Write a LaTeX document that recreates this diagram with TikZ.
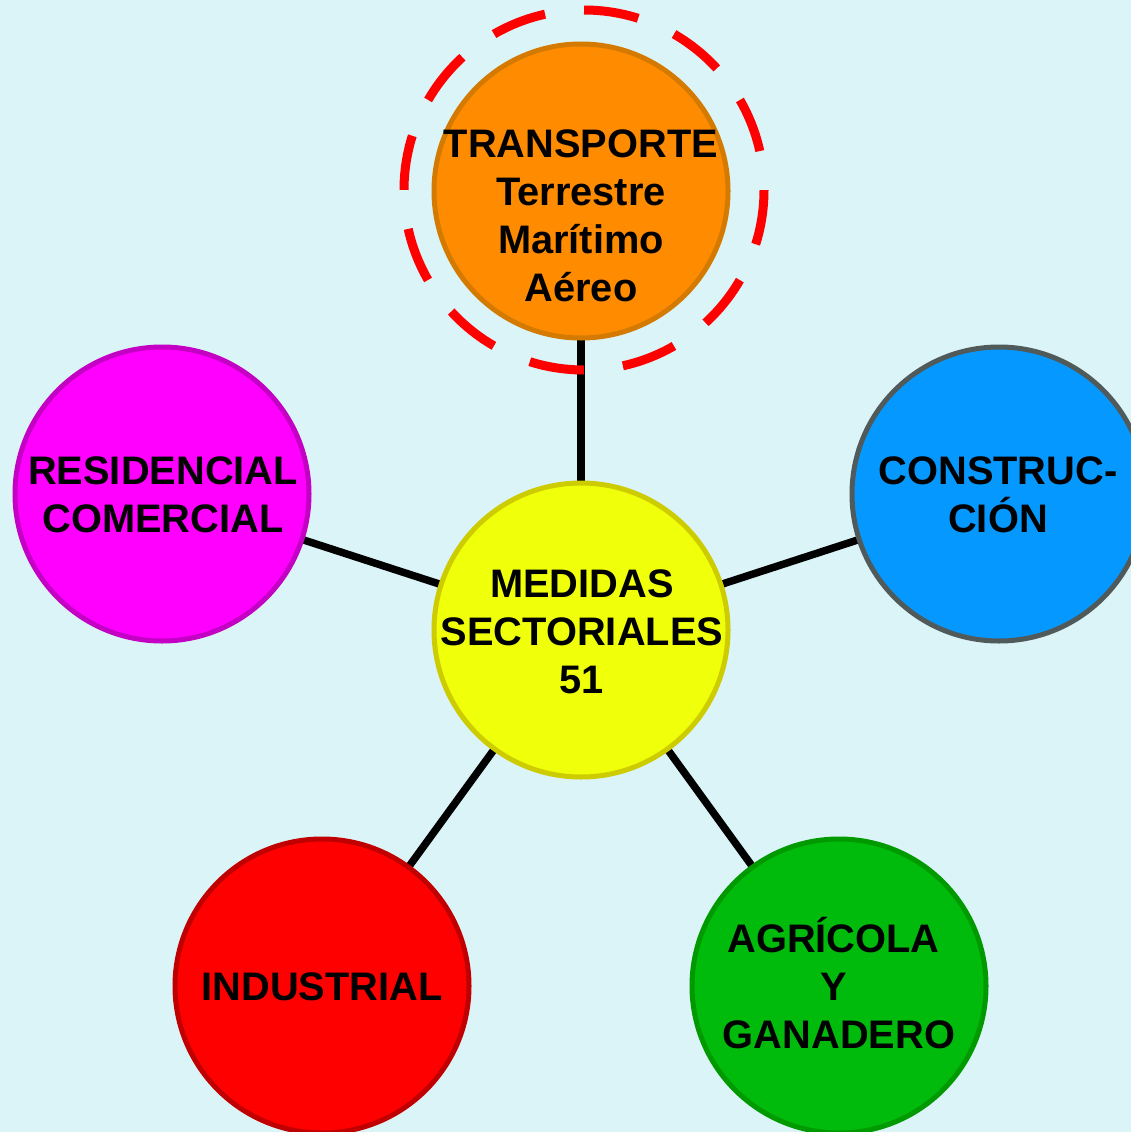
\documentclass[tikz,border=0pt]{standalone}
\usepackage{fontspec}
\setmainfont{Liberation Sans}
\pgfdeclarelayer{back}
\pgfdeclarelayer{lines}
\pgfsetlayers{back,lines,main}
\definecolor{bgc}{HTML}{DBF4F8}
\definecolor{orfill}{HTML}{FF8C00}\definecolor{ordraw}{HTML}{D47A00}
\definecolor{mgfill}{HTML}{FF00FF}\definecolor{mgdraw}{HTML}{C400C4}
\definecolor{blfill}{HTML}{0599FF}\definecolor{bldraw}{HTML}{505A5A}
\definecolor{yefill}{HTML}{F0FF0A}\definecolor{yedraw}{HTML}{CCCC00}
\definecolor{rdfill}{HTML}{FF0000}\definecolor{rddraw}{HTML}{C00000}
\definecolor{grfill}{HTML}{00BB0C}\definecolor{grdraw}{HTML}{009A00}
\definecolor{ringc}{HTML}{FF0000}
\tikzset{
  sector/.style={circle, draw, line width=5pt, minimum size=294pt, inner sep=0pt},
  lbl/.style={anchor=north, inner sep=0pt, outer sep=0pt, align=center,
    font=\fontsize{39.8}{48}\selectfont\bfseries, text=black},
  link/.style={line width=7.5pt, draw=black},
  ring/.style={circle, draw=ringc, line width=9pt, minimum size=360pt, inner sep=0pt,
    dash pattern=on 55pt off 39.25pt, dash phase=55pt}
}
\begin{document}
\begin{tikzpicture}[x=1pt,y=-1pt]
\begin{pgfonlayer}{back}
  \fill[bgc] (0,0) rectangle (1131,1132);
\end{pgfonlayer}
\path[use as bounding box] (0,0) rectangle (1131,1132);

\node[ring] (ringnode) at (584,190) {};
\node[sector, fill=orfill, draw=ordraw] (trans) at (581,191) {};
\node[sector, fill=mgfill, draw=mgdraw] (resi) at (162,494) {};
\node[sector, fill=blfill, draw=bldraw] (cons) at (999,494) {};
\node[sector, fill=yefill, draw=yedraw] (medi) at (581,630) {};
\node[sector, fill=rdfill, draw=rddraw] (indu) at (322,986) {};
\node[sector, fill=grfill, draw=grdraw] (agri) at (839,986) {};

\begin{pgfonlayer}{lines}
  \draw[link] (medi.center) -- (trans.center);
  \draw[link] (medi.center) -- (resi.center);
  \draw[link] (medi.center) -- (cons.center);
  \draw[link] (medi.center) -- (indu.center);
  \draw[link] (medi.center) -- (agri.center);
\end{pgfonlayer}

\node[lbl] (transtxt) at (581,130) {TRANSPORTE\\Terrestre\\Marítimo\\Aéreo};
\node[lbl] (resitxt) at (163,457) {RESIDENCIAL\\COMERCIAL};
\node[lbl] (constxt) at (998,457) {CONSTRUC-\\CIÓN};
\node[lbl] (meditxt) at (582,570) {MEDIDAS\\SECTORIALES\\51};
\node[lbl] (indutxt) at (322,973) {INDUSTRIAL};
\node[lbl] (agritxt) at (839,925) {\smash{AGRÍCOLA}\vphantom{A}\kern11pt\\Y\kern11pt\\GANADERO};
\end{tikzpicture}
\end{document}
